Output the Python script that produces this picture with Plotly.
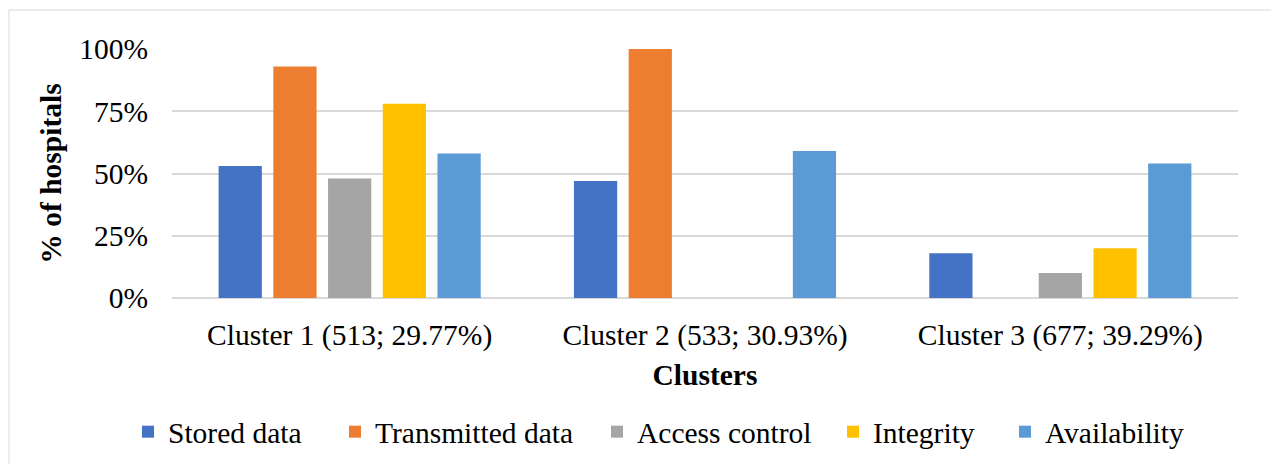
import plotly.graph_objects as go

categories = ["Cluster 1 (513; 29.77%)", "Cluster 2 (533; 30.93%)", "Cluster 3 (677; 39.29%)"]
series_names = ["Stored data", "Transmitted data", "Access control", "Integrity", "Availability"]
stored_data = [0.53, 0.47, 0.18]
transmitted_data = [0.93, 1.00, 0.0]
access_control = [0.48, 0.0, 0.10]
integrity = [0.78, 0.0, 0.20]
availability = [0.58, 0.59, 0.54]
y_ticks = [0, 0.25, 0.5, 0.75, 1.0]
y_tick_labels = ["0%", "25%", "50%", "75%", "100%"]

colors = ["#4472C4", "#ED7D31", "#A5A5A5", "#FFC000", "#5B9BD5"]
values = [stored_data, transmitted_data, access_control, integrity, availability]

FONT = "Liberation Serif, Times New Roman, serif"
FS = 29.5

# page body has an 8px margin; figure coordinates are offset accordingly
OFF = 8
W, H = 1279, 464
L, T = 172 - OFF, 49 - OFF
pw, ph = 1066, 249
R, B = W - L - pw, H - T - ph

legend_square_x = [141, 348, 610, 846, 1018]  # target left edge of legend squares on page
legend_names = ["legend", "legend2", "legend3", "legend4", "legend5"]

fig = go.Figure()
for name, vals, col, lg in zip(series_names, values, colors, legend_names):
    fig.add_trace(go.Bar(x=categories, y=vals, name=name, legend=lg,
                         marker=dict(color=col, line=dict(width=0))))

legend_y = (ph - (432 - OFF - T)) / ph
legends = {}
for lg, sx in zip(legend_names, legend_square_x):
    legends[lg] = dict(orientation="h", x=(sx - OFF - 13 - L) / pw, xanchor="left",
                       y=legend_y, yanchor="middle",
                       font=dict(size=FS, family=FONT, color="black"),
                       bgcolor="rgba(0,0,0,0)", borderwidth=0)

fig.update_layout(
    width=W, height=H,
    margin=dict(l=L, r=R, t=T, b=B, pad=0),
    paper_bgcolor="white", plot_bgcolor="white",
    barmode="group", bargap=0.23, bargroupgap=0.21,
    font=dict(family=FONT, size=FS, color="black"),
    showlegend=True,
    xaxis=dict(title=dict(text="<b>Clusters</b>", standoff=13, font=dict(size=FS)),
               showline=False, showgrid=False, zeroline=False,
               ticks="", ticklabelstandoff=16, tickfont=dict(size=FS)),
    yaxis=dict(title=dict(text="<b>% of hospitals</b>", standoff=8, font=dict(size=FS)),
               range=[0, 1.0], tickvals=y_ticks, ticktext=y_tick_labels,
               showgrid=True, gridcolor="#D9D9D9", gridwidth=1.5,
               zeroline=True, zerolinecolor="#D9D9D9", zerolinewidth=1.5,
               showline=False, ticks="", ticklabelstandoff=23, tickfont=dict(size=FS)),
    shapes=[dict(type="rect", xref="paper", yref="paper",
                 x0=(9 - OFF - L) / pw, x1=(W + 20 - L) / pw,
                 y0=-(H + 20 - (T + ph)) / ph, y1=(ph + T - (10 - OFF)) / ph,
                 line=dict(color="#D9D9D9", width=1), fillcolor="rgba(0,0,0,0)",
                 layer="below")],
    **legends,
)

fig.write_html("out.html")
